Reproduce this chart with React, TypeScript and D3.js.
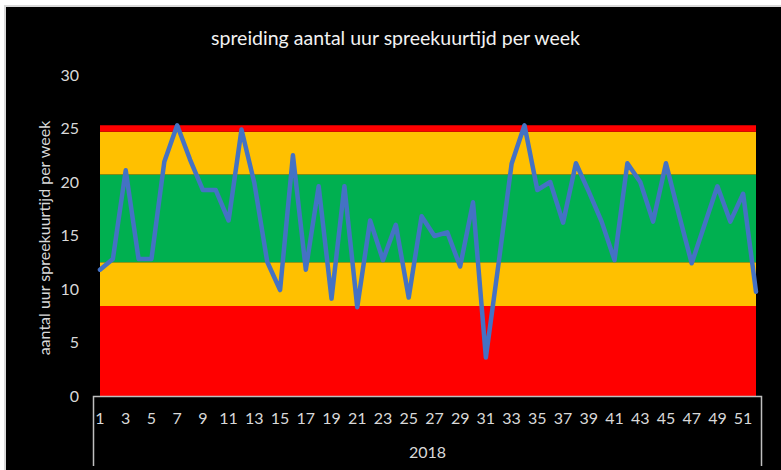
import React from 'react';
import * as d3 from 'd3';

const weeks: number[] = [1,2,3,4,5,6,7,8,9,10,11,12,13,14,15,16,17,18,19,20,21,22,23,24,25,26,27,28,29,30,31,32,33,34,35,36,37,38,39,40,41,42,43,44,45,46,47,48,49,50,51,52];
const hours: number[] = [11.8, 12.8, 21.1, 12.8, 12.8, 21.9, 25.3, 22.1, 19.25, 19.25, 16.4, 24.9, 19.9, 12.55, 9.9, 22.5, 11.8, 19.6, 9.1, 19.6, 8.3, 16.4, 12.7, 16.0, 9.2, 16.8, 14.95, 15.3, 12.1, 18.1, 3.6, 12.5, 21.7, 25.3, 19.25, 20.0, 16.2, 21.75, 19.1, 16.3, 12.7, 21.75, 20.0, 16.3, 21.75, 17.0, 12.4, 16.0, 19.6, 16.3, 18.9, 9.75];
const bandKeys: string[] = ['rood1', 'geel1', 'groen', 'geel2', 'rood2'];
const bandSizes: number[] = [8.4, 4.1, 8.2, 4.0, 0.6];
const bandColors: string[] = ['#FF0000', '#FFC000', '#00B050', '#FFC000', '#FF0000'];
const yTicks: number[] = [0, 5, 10, 15, 20, 25, 30];
const xTickLabels: number[] = [1,3,5,7,9,11,13,15,17,19,21,23,25,27,29,31,33,35,37,39,41,43,45,47,49,51];
const yearLabel = '2018';
const title = 'spreiding aantal uur spreekuurtijd per week';
const yTitle = 'aantal uur spreekuurtijd per week';

const FONT = 'Lato, Carlito, Calibri, sans-serif';

export default function App() {
  const W = 781, H = 470;
  const x = d3.scalePoint<number>().domain(weeks).range([100, 756]);
  const y = d3.scaleLinear().domain([0, 30]).range([396, 75]);

  const rows = weeks.map((w) => {
    const r: any = { week: w };
    bandKeys.forEach((k, i) => (r[k] = bandSizes[i]));
    return r;
  });
  const stacked = d3.stack<any>().keys(bandKeys)(rows);
  const area = d3.area<any>()
    .x((d) => x(d.data.week) as number)
    .y0((d) => y(d[0]))
    .y1((d) => y(d[1]));

  const line = d3.line<number>()
    .x((_, i) => x(weeks[i]) as number)
    .y((d) => y(d));

  const axL = 93.5, axR = 761.5, axY = 396.5, axBottom = 466;

  return (
    <svg width={W} height={H} style={{ position: 'absolute', left: 0, top: 0, background: '#fff' }}>
      <rect x={5} y={6} width={W + 20} height={H + 20} fill="#000" stroke="#d9d9d9" strokeWidth={2} />
      <text x={395.5} y={45} textAnchor="middle" fill="#f2f2f2" fontFamily={FONT} fontSize={18.5} textLength={369} lengthAdjust="spacingAndGlyphs">{title}</text>

      {stacked.map((s, i) => (
        <path key={bandKeys[i]} d={area(s) as string} fill={bandColors[i]} />
      ))}

      <path d={line(hours) as string} fill="none" stroke="#4472C4" strokeWidth={4.5} strokeLinejoin="round" strokeLinecap="round" />

      {yTicks.map((t) => (
        <text key={t} x={79} y={y(t)} dy="0.35em" textAnchor="end" fill="#d9d9d9" fontFamily={FONT} fontSize={16}>{t}</text>
      ))}
      <text transform={`translate(44,238) rotate(-90)`} textAnchor="middle" dy="0.35em" fill="#d9d9d9" fontFamily={FONT} fontSize={16}>{yTitle}</text>

      <path d={`M${axL},${axBottom}V${axY}H${axR}V${axBottom}`} fill="none" stroke="#bfbfbf" strokeWidth={1.5} />
      {xTickLabels.map((t) => (
        <text key={t} x={x(t) as number} y={418} dy="0.35em" textAnchor="middle" fill="#d9d9d9" fontFamily={FONT} fontSize={16}>{t}</text>
      ))}
      <text x={(axL + axR) / 2} y={452} dy="0.35em" textAnchor="middle" fill="#d9d9d9" fontFamily={FONT} fontSize={16}>{yearLabel}</text>
    </svg>
  );
}
